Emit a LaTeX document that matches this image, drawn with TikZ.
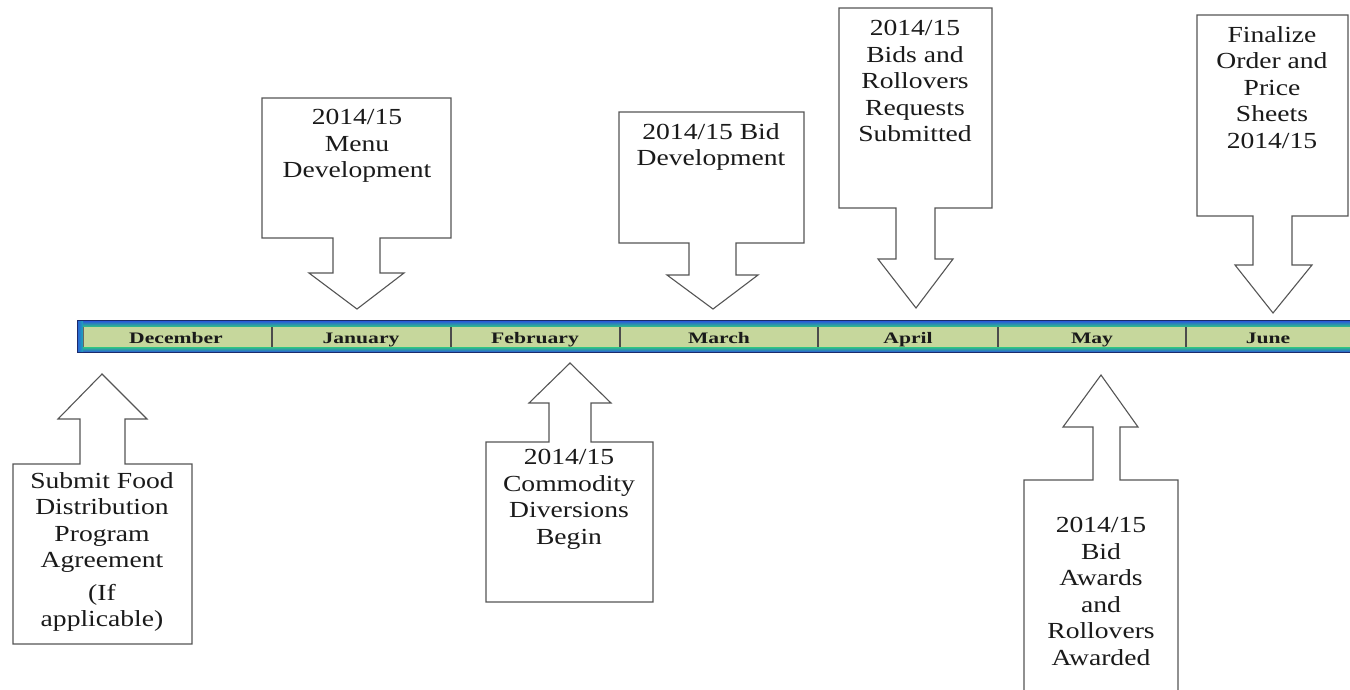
\documentclass[tikz,border=0pt]{standalone}
\usepackage{fontspec}
\setmainfont{Liberation Serif}[FakeStretch=1.2]
\newfontfamily\monthfont{Liberation Serif}[FakeStretch=1.35]
\definecolor{barfill}{HTML}{C6D79C}
\definecolor{barblue}{HTML}{2A5BD8}
\definecolor{bargreen}{HTML}{2FD07A}
\definecolor{barcyan}{HTML}{1FA8B8}
\definecolor{barnavy}{HTML}{1B2A6B}
\definecolor{boxline}{HTML}{555555}
\definecolor{txt}{HTML}{1A1A1A}
\tikzset{
  callout/.style={draw=boxline, line width=1.1pt, fill=white, line join=miter},
  ctext/.style={anchor=north, align=center, inner sep=0pt, text=txt,
    font=\fontsize{23}{26.5}\selectfont},
  month/.style={anchor=base, inner sep=0pt, text=txt,
    font=\monthfont\bfseries\fontsize{16}{18}\selectfont},
  divider/.style={draw=black!70, line width=1.3pt}
}
\begin{document}
\begin{tikzpicture}[x=1pt,y=-1pt]
\useasboundingbox (0,0) rectangle (1350,689);
\fill[white] (0,0) rectangle (1350,689);

% ---- timeline bar ----
\fill[barblue] (77,320) rectangle (1350,353);
\shade[top color=barblue, bottom color=bargreen] (83,321) rectangle (1350,327.5);
\shade[top color=bargreen, bottom color=barblue] (83,346.5) rectangle (1350,352);
\shade[left color=barblue, right color=barcyan] (77,321) rectangle (83,352);
\draw[barnavy, line width=1pt] (1350,320.5) -- (77.5,320.5) -- (77.5,352.5) -- (1350,352.5);
\fill[barfill] (83,327) rectangle (1350,347);
\draw[black!60, line width=1pt] (83.5,327) -- (83.5,347);

\coordinate (d1t) at (272,327); \coordinate (d1b) at (272,347);
\coordinate (d2t) at (451,327); \coordinate (d2b) at (451,347);
\coordinate (d3t) at (620,327); \coordinate (d3b) at (620,347);
\coordinate (d4t) at (818,327); \coordinate (d4b) at (818,347);
\coordinate (d5t) at (998,327); \coordinate (d5b) at (998,347);
\coordinate (d6t) at (1186,327); \coordinate (d6b) at (1186,347);
\foreach \i in {1,...,6} { \draw[divider] (d\i t) -- (d\i b); }

\node[month] (dec) at (176,343) {December};
\node[month] (jan) at (361,343) {January};
\node[month] (feb) at (535,343) {February};
\node[month] (mar) at (719,343) {March};
\node[month] (apr) at (908,343) {April};
\node[month] (may) at (1092,343) {May};
\node[month] (jun) at (1268,343) {June};

% ---- callouts above (pointing down) ----
% Menu Development
\draw[callout] (262,98) -- (451,98) -- (451,238) -- (380,238) -- (380,273) -- (404,273)
  -- (357,309) -- (309,273) -- (333,273) -- (333,238) -- (262,238) -- cycle;
\node[ctext] (menu) at (357,109) {2014/15\\Menu\\Development};

% Bid Development
\draw[callout] (619,112) -- (804,112) -- (804,243) -- (736,243) -- (736,275) -- (758,275)
  -- (713,309) -- (667,275) -- (689,275) -- (689,243) -- (619,243) -- cycle;
\node[ctext] (biddev) at (711,123) {2014/15 Bid\\Development};

% Bids and Rollovers Requests Submitted
\draw[callout] (839,8) -- (992,8) -- (992,208) -- (935,208) -- (935,259) -- (953,259)
  -- (916,308) -- (878,259) -- (896,259) -- (896,208) -- (839,208) -- cycle;
\node[ctext] (bids) at (915,20) {2014/15\\Bids and\\Rollovers\\Requests\\Submitted};

% Finalize Order and Price Sheets
\draw[callout] (1197,15) -- (1348,15) -- (1348,216) -- (1292,216) -- (1292,265) -- (1312,265)
  -- (1273,313) -- (1235,265) -- (1253,265) -- (1253,216) -- (1197,216) -- cycle;
\node[ctext] (final) at (1272,26) {Finalize\\Order and\\Price\\Sheets\\2014/15};

% ---- callouts below (pointing up) ----
% Submit Food Distribution Program Agreement
\draw[callout] (13,644) -- (13,464) -- (80,464) -- (80,419) -- (58,419) -- (102,374)
  -- (147,419) -- (125,419) -- (125,464) -- (192,464) -- (192,644) -- cycle;
\node[ctext] (submit) at (102,472) {Submit Food\\Distribution\\Program\\Agreement\\[6pt](If\\applicable)};

% Commodity Diversions Begin
\draw[callout] (486,602) -- (486,442) -- (549,442) -- (549,403) -- (529,403) -- (570,363)
  -- (611,403) -- (591,403) -- (591,442) -- (653,442) -- (653,602) -- cycle;
\node[ctext] (commod) at (569,449) {2014/15\\Commodity\\Diversions\\Begin};

% Bid Awards and Rollovers Awarded (box runs off the bottom)
\fill[white] (1024,700) -- (1024,480) -- (1178,480) -- (1178,700) -- cycle;
\draw[callout] (1024,700) -- (1024,480) -- (1093,480) -- (1093,427) -- (1063,427) -- (1101,375)
  -- (1138,427) -- (1120,427) -- (1120,480) -- (1178,480) -- (1178,700);
\node[ctext] (awards) at (1101,517) {2014/15\\Bid\\Awards\\and\\Rollovers\\Awarded};
\end{tikzpicture}
\end{document}
